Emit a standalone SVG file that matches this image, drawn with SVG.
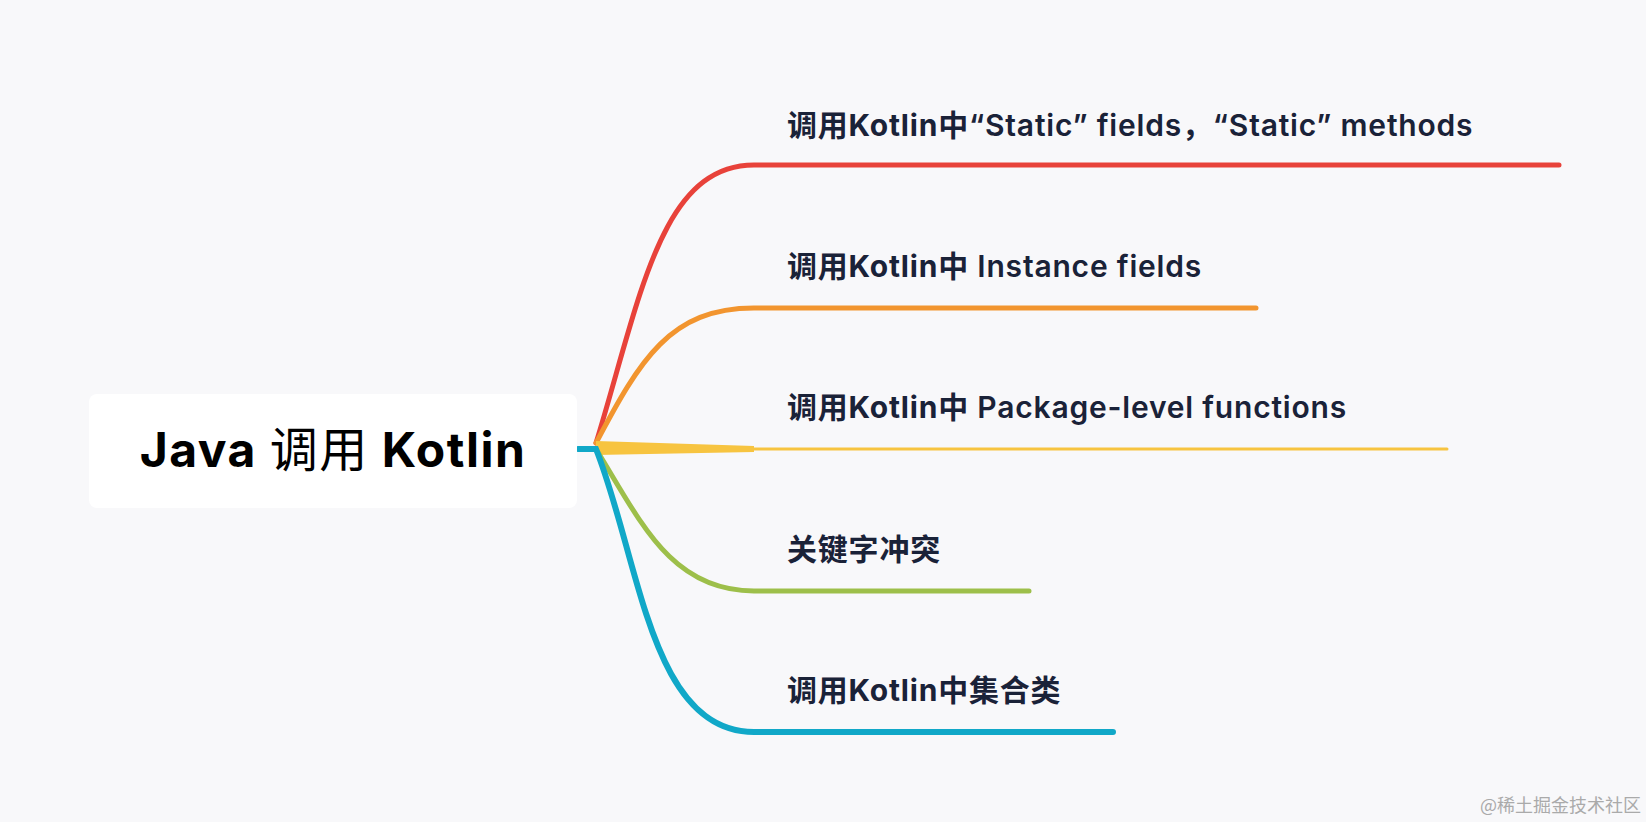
<svg xmlns="http://www.w3.org/2000/svg" width="1646" height="822" viewBox="0 0 1646 822">
<style>
.t{font-family:Inter,"Noto Sans CJK SC",sans-serif;font-size:30px;font-weight:600;letter-spacing:0.8px;fill:#1a2238}
.b{font-weight:bold}
.c{fill:none;stroke-linecap:round}
</style>
<rect width="1646" height="822" fill="#f8f8fa"/>
<g id="connectors">
<path class="c" d="M596 443 C640 300,660 165,754 165 L1559 165" stroke="#e8423a" stroke-width="5"/>
<path class="c" d="M596 443 C640 360,670 308,754 308 L1256 308" stroke="#f2952f" stroke-width="5"/>
<path d="M596 441 L754 446 L754 452 L596 455 Z" fill="#f7c440"/>
<path class="c" d="M754 449 L1447 449" stroke="#f7c440" stroke-width="3"/>
<path class="c" d="M596 449 C640 520,670 591,754 591 L1029 591" stroke="#9dbf4a" stroke-width="5"/>
<path class="c" d="M578 449 L596 449 C640 560,650 732,754 732 L1113 732" stroke="#11a8c8" stroke-width="6"/>
</g>
<g id="root">
<rect x="89" y="394" width="488" height="114" rx="8" fill="#fff"/>
<text x="333" y="467" text-anchor="middle" font-family="Inter,Noto Sans CJK SC,sans-serif" font-size="48" font-weight="bold" letter-spacing="1.5" fill="#000">Java <tspan font-weight="normal">调用</tspan> Kotlin</text>
</g>
<g id="n1"><text class="t" x="787" y="136">调用<tspan class="b">Kotlin</tspan>中“Static” fields，“Static” methods</text></g>
<g id="n2"><text class="t" x="787" y="277">调用<tspan class="b">Kotlin</tspan>中 Instance fields</text></g>
<g id="n3"><text class="t" x="787" y="418">调用<tspan class="b">Kotlin</tspan>中 Package-level functions</text></g>
<g id="n4"><text class="t" x="787" y="560">关键字冲突</text></g>
<g id="n5"><text class="t" x="787" y="701">调用<tspan class="b">Kotlin</tspan>中集合类</text></g>
<text x="1480" y="812" font-family="Noto Sans CJK SC,sans-serif" font-size="18" fill="#aaa">@稀土掘金技术社区</text>
</svg>
